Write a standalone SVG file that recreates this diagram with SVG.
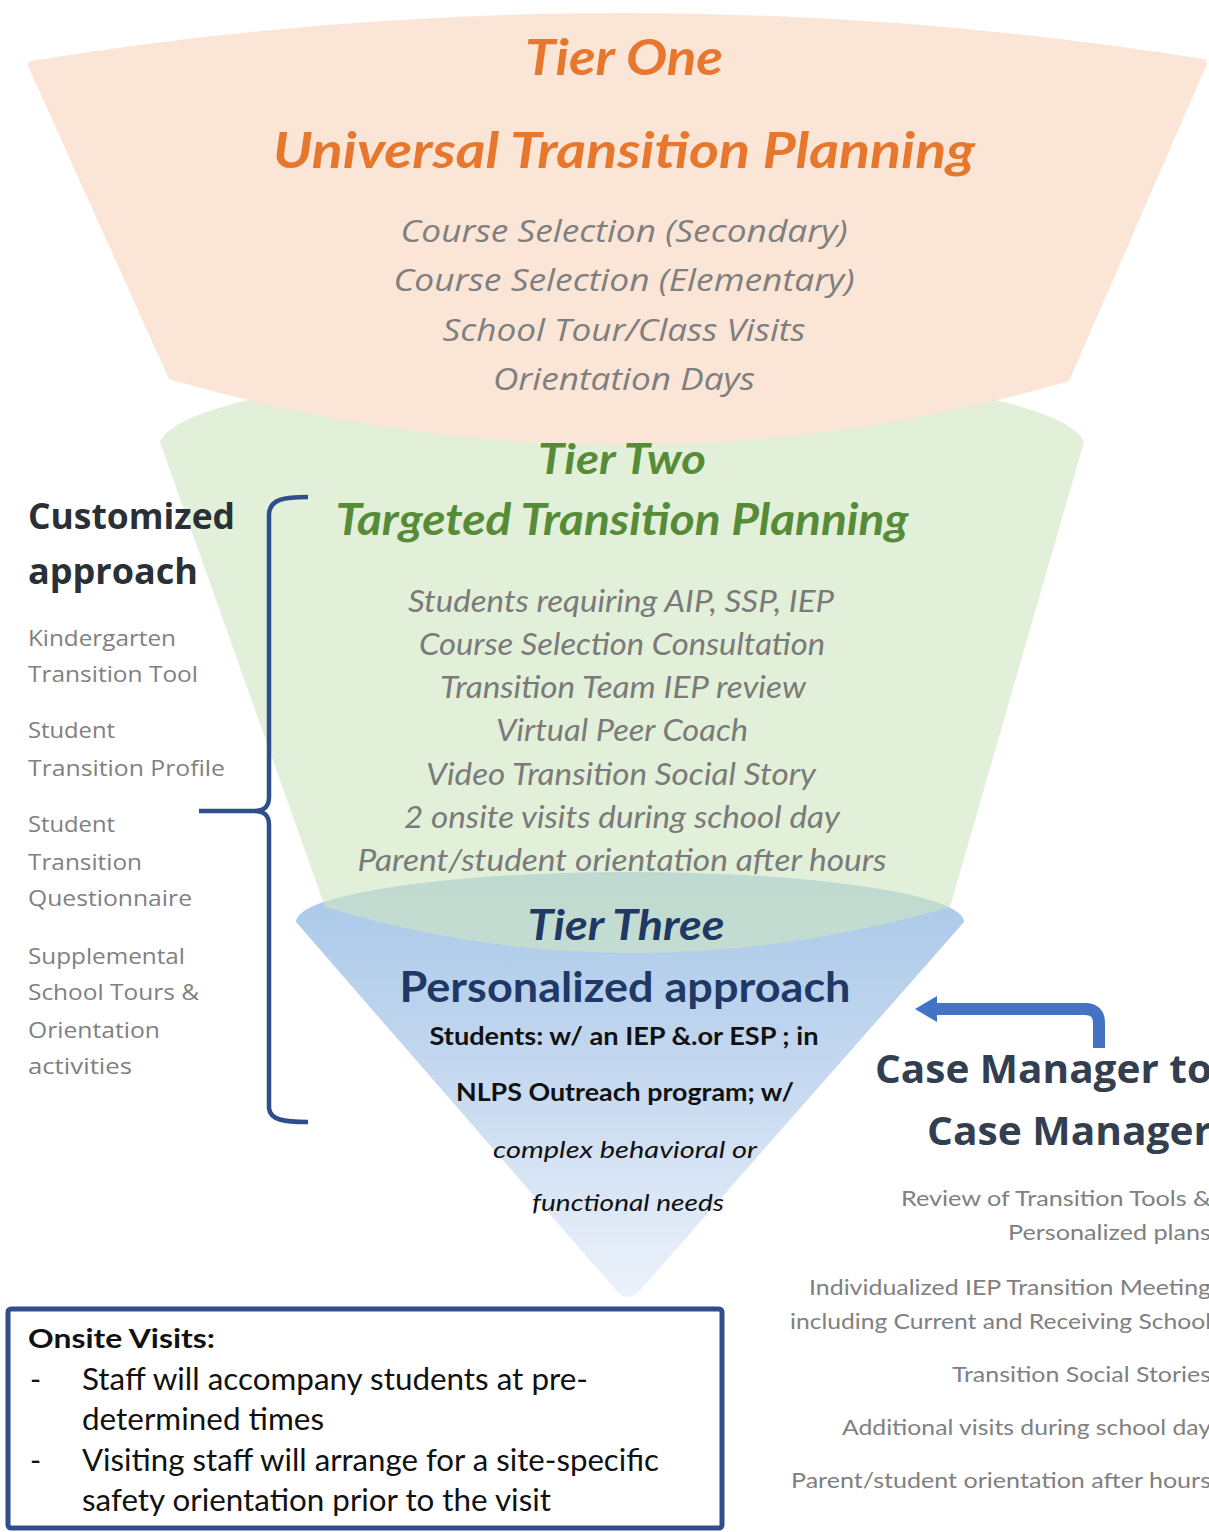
<svg xmlns="http://www.w3.org/2000/svg" width="1209" height="1532" viewBox="0 0 1209 1532">
<defs>
<linearGradient id="blueGrad" x1="0" y1="0" x2="0" y2="1">
<stop offset="0" stop-color="#A8C8E9"/>
<stop offset="0.45" stop-color="#C3D7EF"/>
<stop offset="1" stop-color="#ECF2FA"/>
</linearGradient>
<style>
.t1h{font-family:Lato,"Open Sans",sans-serif;font-weight:bold;font-style:italic;fill:#E8772E;text-anchor:middle}
.t1i{font-family:"Open Sans",sans-serif;font-style:italic;fill:#7F7F7F;font-size:31px;text-anchor:middle}
.t2h{font-family:Lato,"Open Sans",sans-serif;font-weight:bold;font-style:italic;fill:#568C37;text-anchor:middle}
.t2i{font-family:Lato,"Open Sans",sans-serif;font-style:italic;fill:#7A7A7A;font-size:30px;text-anchor:middle}
.t3h{font-family:Lato,"Open Sans",sans-serif;font-weight:bold;fill:#1F3864;text-anchor:middle}
.t3b{font-family:Lato,"Open Sans",sans-serif;font-weight:bold;fill:#111111;font-size:24px;text-anchor:middle}
.t3i{font-family:Lato,"Open Sans",sans-serif;font-style:italic;fill:#111111;font-size:24px;text-anchor:middle}
.lh{font-family:"Open Sans",sans-serif;font-weight:bold;fill:#2B2F36;font-size:36px}
.li{font-family:"Open Sans",sans-serif;fill:#808080;font-size:22px}
.rh{font-family:"Open Sans",sans-serif;font-weight:bold;fill:#333F50;font-size:40px;text-anchor:end}
.ri{font-family:Lato,"Open Sans",sans-serif;fill:#808080;font-size:22px;text-anchor:end}
.ob{font-family:Lato,"Open Sans",sans-serif;font-weight:bold;fill:#111111;font-size:26px}
.ot{font-family:Lato,"Open Sans",sans-serif;fill:#111111;font-size:30px}
</style>
</defs>
<rect x="0" y="0" width="1209" height="1532" fill="#FFFFFF"/>

<g id="tier3">
<path d="M296,922 A334,50 0 0 1 964,922 L642,1288 Q628,1306 614,1288 Z" fill="url(#blueGrad)"/>
</g>
<g id="tier2">
<path d="M160,442 A463,80 0 0 1 1084,442 L950,907 Q630,999 325,907 Z" fill="#CFE6C0" fill-opacity="0.6"/>
</g>
<g id="tier1">
<path d="M32,65 Q620,-30 1203,63 L1066,378 Q620,505 172,376 Z" fill="#FBE5D6" stroke="#FBE5D6" stroke-width="8" stroke-linejoin="round"/>
</g>

<g id="tier1-text">
<text class="t1h" x="624" y="75" font-size="50" textLength="198" lengthAdjust="spacingAndGlyphs">Tier One</text>
<text class="t1h" x="624" y="168" font-size="49" textLength="702" lengthAdjust="spacingAndGlyphs">Universal Transition Planning</text>
<text class="t1i" x="624" y="242" textLength="447" lengthAdjust="spacingAndGlyphs">Course Selection (Secondary)</text>
<text class="t1i" x="624" y="291" textLength="461" lengthAdjust="spacingAndGlyphs">Course Selection (Elementary)</text>
<text class="t1i" x="624" y="341" textLength="363" lengthAdjust="spacingAndGlyphs">School Tour/Class  Visits</text>
<text class="t1i" x="624" y="390" textLength="262" lengthAdjust="spacingAndGlyphs">Orientation Days</text>
</g>

<g id="tier2-text">
<text class="t2h" x="622" y="474" font-size="42" textLength="168" lengthAdjust="spacingAndGlyphs">Tier Two</text>
<text class="t2h" x="622" y="535" font-size="44" textLength="573" lengthAdjust="spacingAndGlyphs">Targeted Transition Planning</text>
<text class="t2i" x="621" y="612" textLength="426" lengthAdjust="spacingAndGlyphs">Students requiring AIP, SSP, IEP</text>
<text class="t2i" x="622" y="655" textLength="406" lengthAdjust="spacingAndGlyphs">Course Selection Consultation</text>
<text class="t2i" x="623" y="698" textLength="366" lengthAdjust="spacingAndGlyphs">Transition  Team IEP review</text>
<text class="t2i" x="622" y="741" textLength="252" lengthAdjust="spacingAndGlyphs">Virtual Peer Coach</text>
<text class="t2i" x="621" y="785" textLength="390" lengthAdjust="spacingAndGlyphs">Video Transition Social Story</text>
<text class="t2i" x="622" y="828" textLength="436" lengthAdjust="spacingAndGlyphs">2 onsite visits  during school day</text>
<text class="t2i" x="622" y="871" textLength="529" lengthAdjust="spacingAndGlyphs">Parent/student orientation after hours</text>
</g>

<g id="tier3-text">
<text class="t3h" x="626" y="940" font-size="42" font-style="italic" textLength="197" lengthAdjust="spacingAndGlyphs">Tier Three</text>
<text class="t3h" x="625" y="1002" font-size="42" textLength="451" lengthAdjust="spacingAndGlyphs">Personalized approach</text>
<text class="t3b" x="624" y="1045" textLength="389" lengthAdjust="spacingAndGlyphs">Students: w/ an IEP &amp;.or ESP ; in</text>
<text class="t3b" x="625" y="1101" textLength="338" lengthAdjust="spacingAndGlyphs">NLPS Outreach program; w/</text>
<text class="t3i" x="625" y="1158" textLength="264" lengthAdjust="spacingAndGlyphs">complex behavioral  or</text>
<text class="t3i" x="628" y="1211" textLength="192" lengthAdjust="spacingAndGlyphs">functional needs</text>
</g>

<g id="customized">
<text class="lh" x="28" y="529" textLength="207" lengthAdjust="spacingAndGlyphs">Customized</text>
<text class="lh" x="28" y="584" textLength="170" lengthAdjust="spacingAndGlyphs">approach</text>
<text class="li" x="28" y="646" textLength="148" lengthAdjust="spacingAndGlyphs">Kindergarten</text>
<text class="li" x="28" y="682" textLength="170" lengthAdjust="spacingAndGlyphs">Transition Tool</text>
<text class="li" x="28" y="738" textLength="87" lengthAdjust="spacingAndGlyphs">Student</text>
<text class="li" x="28" y="776" textLength="197" lengthAdjust="spacingAndGlyphs">Transition Profile</text>
<text class="li" x="28" y="832" textLength="87" lengthAdjust="spacingAndGlyphs">Student</text>
<text class="li" x="28" y="870" textLength="114" lengthAdjust="spacingAndGlyphs">Transition</text>
<text class="li" x="28" y="906" textLength="164" lengthAdjust="spacingAndGlyphs">Questionnaire</text>
<text class="li" x="28" y="964" textLength="157" lengthAdjust="spacingAndGlyphs">Supplemental</text>
<text class="li" x="28" y="1000" textLength="171" lengthAdjust="spacingAndGlyphs">School Tours &amp;</text>
<text class="li" x="28" y="1038" textLength="132" lengthAdjust="spacingAndGlyphs">Orientation</text>
<text class="li" x="28" y="1074" textLength="104" lengthAdjust="spacingAndGlyphs">activities</text>
</g>

<g id="case-manager">
<text class="rh" x="1212" y="1083" textLength="337" lengthAdjust="spacingAndGlyphs">Case Manager to</text>
<text class="rh" x="1212" y="1145" textLength="285" lengthAdjust="spacingAndGlyphs">Case Manager</text>
<text class="ri" x="1211" y="1206" textLength="310" lengthAdjust="spacingAndGlyphs">Review of Transition Tools &amp;</text>
<text class="ri" x="1211" y="1240" textLength="203" lengthAdjust="spacingAndGlyphs">Personalized plans</text>
<text class="ri" x="1211" y="1295" textLength="402" lengthAdjust="spacingAndGlyphs">Individualized IEP Transition Meeting</text>
<text class="ri" x="1211" y="1329" textLength="421" lengthAdjust="spacingAndGlyphs">including Current and Receiving School</text>
<text class="ri" x="1211" y="1382" textLength="259" lengthAdjust="spacingAndGlyphs">Transition Social Stories</text>
<text class="ri" x="1211" y="1435" textLength="369" lengthAdjust="spacingAndGlyphs">Additional visits during school day</text>
<text class="ri" x="1211" y="1488" textLength="420" lengthAdjust="spacingAndGlyphs">Parent/student orientation after hours</text>
</g>

<g id="onsite-visits">
<rect x="8" y="1309" width="714" height="219" rx="3" fill="#FFFFFF" stroke="#2F4E8B" stroke-width="5"/>
<text class="ob" x="28" y="1348" textLength="187" lengthAdjust="spacingAndGlyphs">Onsite Visits:</text>
<text class="ot" x="30" y="1390">-</text>
<text class="ot" x="82" y="1390" textLength="506" lengthAdjust="spacingAndGlyphs">Staff will accompany students at pre-</text>
<text class="ot" x="82" y="1430" textLength="242" lengthAdjust="spacingAndGlyphs">determined times</text>
<text class="ot" x="30" y="1471">-</text>
<text class="ot" x="82" y="1471" textLength="577" lengthAdjust="spacingAndGlyphs">Visiting staff will arrange for a site-specific</text>
<text class="ot" x="82" y="1511" textLength="469" lengthAdjust="spacingAndGlyphs">safety orientation prior to the visit</text>
</g>

<g id="connectors">
<path d="M308,497 C284,497 270,499 269,514 L269,797 C269,807 264,811 254,811 L199,811 M254,811 C264,811 269,815 269,825 L269,1108 C270,1120 284,1122 308,1122" fill="none" stroke="#2E4F8C" stroke-width="4.5"/>
<path d="M1099,1048 V1023 Q1099,1009 1085,1009 H932" fill="none" stroke="#4472C4" stroke-width="12"/>
<polygon points="915,1009 937,996 937,1022" fill="#4472C4"/>
</g>
</svg>
